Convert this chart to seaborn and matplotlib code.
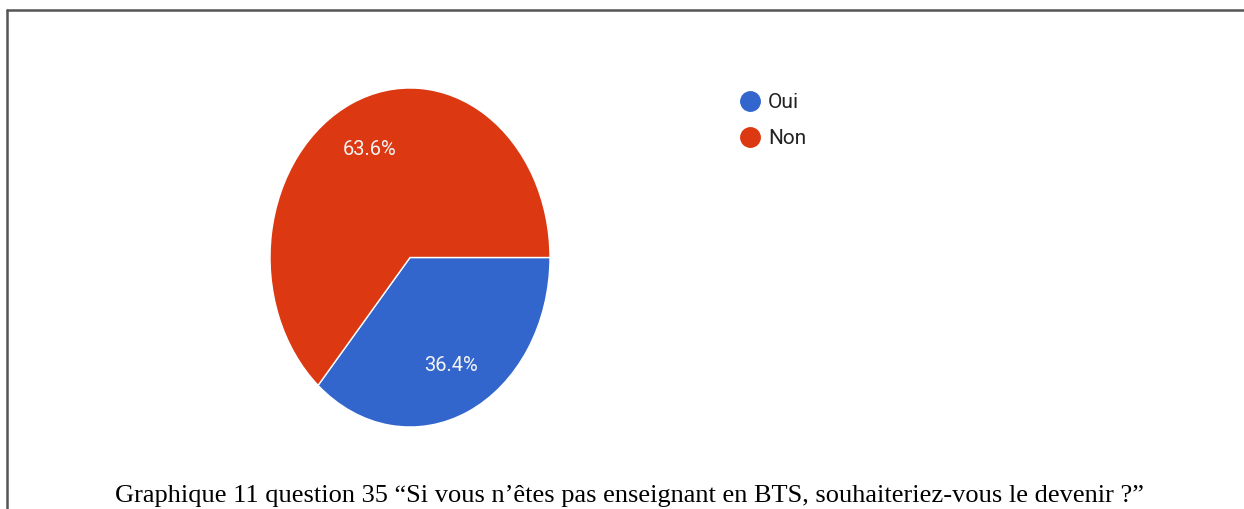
import matplotlib
matplotlib.use("Agg")
import matplotlib.pyplot as plt
import seaborn as sns
from matplotlib.lines import Line2D

# Data
labels = ["Oui", "Non"]
shares = [36.4, 63.6]
colors = ["#3366CC", "#DC3912"]
caption = "Graphique 11 question 35 \u201cSi vous n\u2019\u00eates pas enseignant en BTS, souhaiteriez-vous le devenir ?\u201d"

sns.set_style("white")
plt.rcParams["font.family"] = ["Roboto", "DejaVu Sans"]

W, H = 1244, 509
fig = plt.figure(figsize=(W / 100, H / 100), dpi=100)

# pie area (stretched, like the original screenshot)
ax = fig.add_axes([270 / W, (H - 427) / H, 280 / W, 339 / H])

wedges, texts, autotexts = ax.pie(
    shares,
    colors=colors,
    startangle=0,
    counterclock=False,
    autopct="%.1f%%",
    pctdistance=0.7,
    wedgeprops=dict(edgecolor="white", linewidth=1),
    textprops=dict(color="#F4F4F4", fontsize=14.5)
)
ax.set_aspect("auto")
ax.set_xlim(-1, 1)
ax.set_ylim(-1, 1)
ax.axis("off")

# Legend
handles = [
    Line2D([], [], marker="o", linestyle="", markersize=14,
           markerfacecolor=c, markeredgecolor=c)
    for c in colors
]
fig.legend(
    handles,
    labels,
    loc="upper left",
    bbox_to_anchor=(740 / W, 1 - 93 / H),
    frameon=False,
    fontsize=15,
    labelcolor="#222222",
    handletextpad=0.35,
    labelspacing=0.82,
    borderpad=0,
    borderaxespad=0,
    handlelength=1.0
)

# Frame lines
fig.add_artist(Line2D([7.5 / W, 1], [1 - 9.5 / H, 1 - 9.5 / H],
                      color="#555555", linewidth=1.8))
fig.add_artist(Line2D([7.5 / W, 7.5 / W], [0, 1 - 9.5 / H],
                      color="#555555", linewidth=1.8))

# Caption
fig.text(629 / W, 1 - 502 / H, caption, ha="center", va="baseline",
         fontsize=19, family=["Liberation Serif", "DejaVu Serif"],
         color="black")

fig.savefig("out.png", dpi=100)
plt.close()
